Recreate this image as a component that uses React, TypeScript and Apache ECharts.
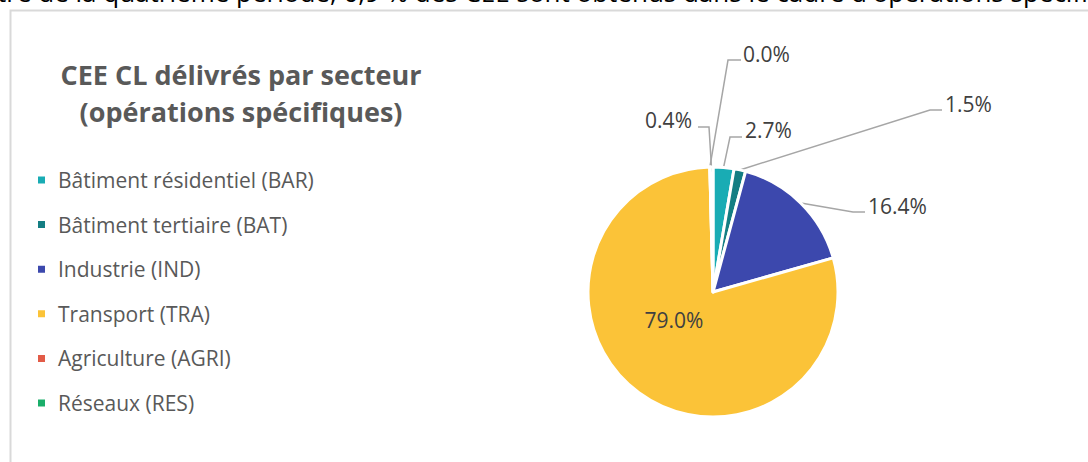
import React, { useEffect, useRef } from "react";
import * as echarts from "echarts";

const categories = [
  "Bâtiment résidentiel (BAR)",
  "Bâtiment tertiaire (BAT)",
  "Industrie (IND)",
  "Transport (TRA)",
  "Agriculture (AGRI)",
  "Réseaux (RES)",
];
const values = [2.7, 1.5, 16.4, 79.0, 0.0, 0.4];
const colors = ["#19ACB4", "#147E83", "#3C48AD", "#FBC338", "#E25B47", "#1AAE6A"];

const titleText = "CEE CL délivrés par secteur\n(opérations spécifiques)";
const topText =
  "tre de la quatrième période, 0,9 % des CEE sont obtenus dans le cadre d'opérations spécifiques";

// label placement (layout only): [labelX, labelY, align, bendX, bendY, endX, endY]
const labelPlacement: any[] = [
  [745, 130, "left", 730, 137, 742, 137],
  [945, 104, "left", 930, 110, 942, 110],
  [868, 206, "left", 853, 212, 865, 212],
  [674, 320, "center", null, null, null, null],
  [743, 54, "left", 728, 60, 741, 60],
  [692, 120, "right", 709, 127, 698, 127],
];

export default function App() {
  const ref = useRef<HTMLDivElement>(null);
  useEffect(() => {
    document.body.style.margin = "0";
    const chart = echarts.init(ref.current!, null, { renderer: "svg" });
    const font = "'Open Sans', 'Noto Sans', sans-serif";
    chart.setOption({
      animation: false,
      backgroundColor: "#ffffff",
      color: colors,
      legend: {
        orient: "vertical",
        left: 36,
        top: 168,
        padding: 0,
        icon: "rect",
        itemWidth: 9,
        itemHeight: 9,
        itemGap: 20.6,
        selectedMode: false,
        textStyle: {
          fontFamily: font,
          fontSize: 21,
          color: "#595959",
          lineHeight: 24,
          padding: [0, 0, 0, 7],
        },
        data: categories,
      },
      graphic: [
        {
          type: "rect",
          shape: { x: 10.5, y: 10.5, width: 1200, height: 600 },
          style: { fill: "none", stroke: "#D9D9D9", lineWidth: 2 },
          silent: true,
        },
        {
          type: "text",
          x: -3,
          y: -8,
          style: {
            text: topText,
            fontFamily: font,
            fontSize: 26,
            fill: "#000000",
            textAlign: "left",
            textVerticalAlign: "middle",
          },
        },
        {
          type: "text",
          x: 241,
          y: 93,
          style: {
            text: titleText,
            fontFamily: font,
            fontSize: 27,
            fontWeight: "bold",
            lineHeight: 37,
            fill: "#595959",
            textAlign: "center",
            textVerticalAlign: "middle",
          },
        },
      ],
      series: [
        {
          type: "pie",
          center: [713, 292],
          radius: 125,
          startAngle: 90,
          clockwise: true,
          avoidLabelOverlap: false,
          itemStyle: { borderColor: "#ffffff", borderWidth: 3 },
          label: {
            show: true,
            position: "outside",
            fontFamily: font,
            fontSize: 21,
            color: "#404040",
            formatter: (p: any) => `${Number(p.value).toFixed(1)}%`,
          },
          labelLine: {
            show: true,
            length: 10,
            length2: 10,
            lineStyle: { color: "#A6A6A6", width: 1.5 },
          },
          labelLayout: (params: any) => {
            const pl = labelPlacement[params.dataIndex];
            const out: any = {
              x: pl[0],
              y: pl[1],
              align: pl[2],
              verticalAlign: "middle",
            };
            if (pl[3] != null && params.labelLinePoints) {
              const start = params.labelLinePoints[0];
              out.labelLinePoints = [start, [pl[3], pl[4]], [pl[5], pl[6]]];
            }
            return out;
          },
          data: categories.map((name, i) => {
            const d: any = { name, value: values[i] };
            if (i === 3) {
              d.label = { position: "inside" };
              d.labelLine = { show: false };
            }
            return d;
          }),
        },
      ],
    });
    return () => chart.dispose();
  }, []);
  return <div ref={ref} style={{ width: 1088, height: 462 }} />;
}
